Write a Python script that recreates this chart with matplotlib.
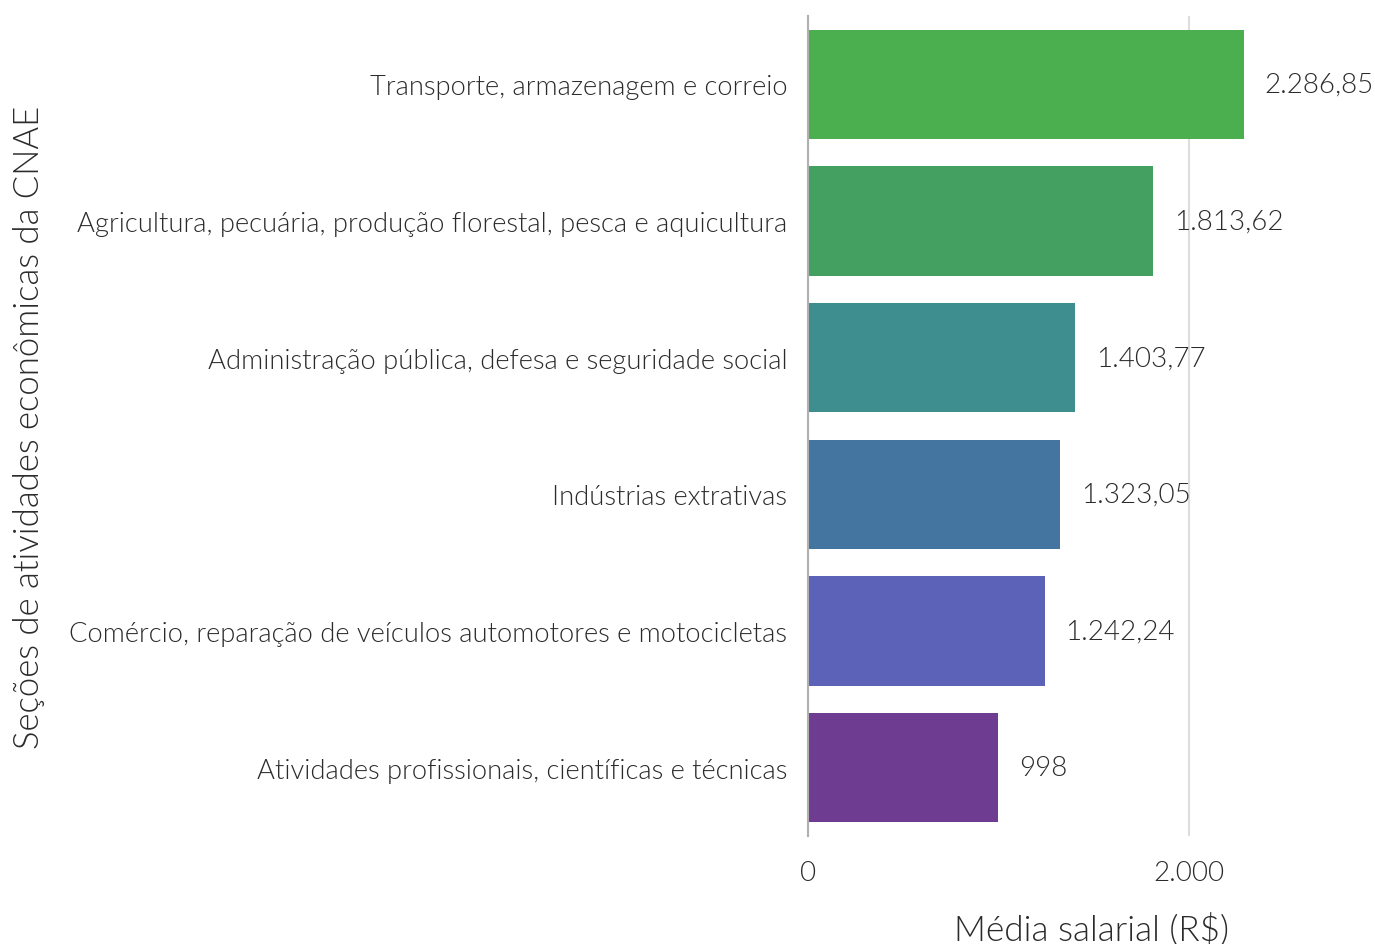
import matplotlib
matplotlib.use('Agg')
import matplotlib.pyplot as plt
from matplotlib.ticker import FuncFormatter

# Data
categories = [
    'Transporte, armazenagem e correio',
    'Agricultura, pecuária, produção florestal, pesca e aquicultura',
    'Administração pública, defesa e seguridade social',
    'Indústrias extrativas',
    'Comércio, reparação de veículos automotores e motocicletas',
    'Atividades profissionais, científicas e técnicas',
]
values = [2286.85, 1813.62, 1403.77, 1323.05, 1242.24, 998.0]
value_labels = ['2.286,85', '1.813,62', '1.403,77', '1.323,05', '1.242,24', '998']
bar_colors = ['#4caf4f', '#44a060', '#3f8e8f', '#4474a0', '#5b62b7', '#6e3d91']
x_ticks = [0, 2000]

W = 300  # Lato Light
TXT = '#2b2b2b'
plt.rcParams['font.family'] = ['Lato', 'DejaVu Sans']
plt.rcParams['font.weight'] = W

fig = plt.figure(figsize=(13.75, 9.45), dpi=100)
ax = fig.add_axes([808 / 1375, 1 - 837 / 945, 1 - 808 / 1375, (837 - 17) / 945])

ypos = list(range(len(categories)))
ax.barh(ypos, values, height=0.8, color=bar_colors, zorder=2)

# value labels right of each bar
for y, v, lab in zip(ypos, values, value_labels):
    ax.annotate(lab, (v, y), xytext=(15, 0), textcoords='offset points',
                va='center', ha='left', fontsize=20, color=TXT, fontweight=W)

ax.set_ylim(len(categories) - 0.5, -0.5)
ax.set_xlim(0, (1375 - 808) / 0.1905)
ax.set_yticks(ypos)
ax.set_yticklabels(categories, fontsize=19.7, color=TXT, fontweight=W)
ax.set_xticks(x_ticks)
ax.xaxis.set_major_formatter(FuncFormatter(lambda x, p: f'{int(x):,}'.replace(',', '.')))
ax.tick_params(axis='x', labelsize=20, labelcolor=TXT, length=0, pad=17)
ax.tick_params(axis='y', length=0, pad=15)

ax.grid(axis='x', color='#dddddd', linewidth=1.5, zorder=0)
for s in ['top', 'right', 'bottom']:
    ax.spines[s].set_visible(False)
ax.spines['left'].set_color('#b0b0b0')
ax.spines['left'].set_linewidth(1.5)
ax.spines['left'].set_zorder(3)

ax.set_xlabel('Média salarial (R$)', fontsize=25.3, color=TXT, fontweight=W)
ax.xaxis.set_label_coords((1092 - 808) / 567, -0.092)
ax.set_ylabel('Seções de atividades econômicas da CNAE', fontsize=25, color=TXT, fontweight=W)
ax.yaxis.set_label_coords((45 - 808) / 567, 0.5)

fig.savefig('out.png', dpi=100)
